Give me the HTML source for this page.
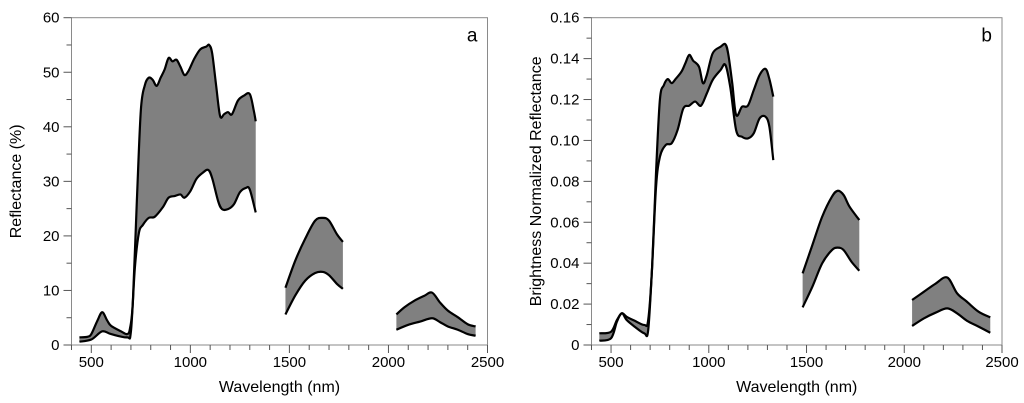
<!DOCTYPE html>
<html><head><meta charset="utf-8"><style>
body{margin:0;background:#fff;}
svg{display:block;font-family:"Liberation Sans",sans-serif;}
</style></head><body>
<svg id="chart" width="1024" height="403"></svg>
<script>
// ---- Panel a data ----
const aSeg1X=[440,480,500,530,555,580,600,650,680,695,710,730,750,770,790,810,830,850,870,890,910,930,950,970,990,1020,1050,1080,1095,1110,1130,1150,1170,1190,1210,1240,1270,1300,1320,1330];
const aSeg1Upper=[1.4,1.5,2.0,4.4,6.0,4.5,3.5,2.5,2.0,3.0,8.1,26.5,43,47.6,49,48.6,47.5,49,50.5,52.6,52.0,52.3,51,49.5,50.2,52.5,54.2,54.7,55,53.5,47.6,42,42.3,42.7,42.3,44.8,45.7,46,43,41];
const aSeg1LX=[440,500,555,600,680,700,720,740,760,790,820,860,890,920,950,970,1000,1030,1060,1090,1110,1140,1160,1190,1220,1250,1280,1300,1330];
const aSeg1Lower=[0.6,1.0,2.5,2.0,1.4,2.5,14.2,20.5,22,23.3,23.5,25.2,27,27.3,27.6,27,28.2,30.4,31.5,32.1,30.6,26.4,24.9,24.9,25.8,28,28.8,28.5,24.3];
const aSeg2X=[1480,1530,1580,1630,1670,1700,1740,1770];
const aSeg2Upper=[10.5,15.5,19.5,22.8,23.3,22.8,20.3,18.9];
const aSeg2Lower=[5.6,9.1,11.8,13.2,13.4,12.8,11.2,10.3];
const aSeg3UX=[2040,2080,2130,2180,2220,2260,2300,2350,2400,2440];
const aSeg3Upper=[5.6,6.9,8.1,9.0,9.6,7.8,6.3,5.1,3.8,3.4];
const aSeg3LX=[2040,2100,2160,2220,2260,2300,2350,2400,2440];
const aSeg3Lower=[2.8,3.7,4.3,4.9,4.2,3.4,2.8,2.0,1.7];
const aYTicks=[0,10,20,30,40,50,60];
// ---- Panel b data ----
const bSeg1X=[440,500,530,555,580,620,670,690,710,730,750,770,790,810,830,860,880,900,920,950,970,990,1020,1060,1085,1100,1120,1140,1170,1200,1230,1260,1290,1310,1330];
const bSeg1Upper=[0.0057,0.0065,0.0122,0.0155,0.0138,0.0119,0.0098,0.0122,0.038,0.084,0.120,0.127,0.130,0.128,0.130,0.1336,0.1377,0.1418,0.139,0.136,0.128,0.132,0.1426,0.1458,0.147,0.142,0.128,0.1124,0.1165,0.117,0.1246,0.132,0.135,0.130,0.1214];
const bSeg1LX=[440,500,530,555,580,620,670,690,710,730,750,780,810,840,870,900,930,960,990,1020,1060,1085,1110,1140,1170,1200,1230,1260,1290,1310,1330];
const bSeg1Lower=[0.0021,0.0033,0.0114,0.0155,0.0122,0.009,0.0057,0.0073,0.038,0.077,0.092,0.0978,0.0986,0.105,0.1157,0.117,0.119,0.117,0.123,0.1296,0.1344,0.1369,0.126,0.105,0.1018,0.101,0.1035,0.1108,0.1116,0.1067,0.0904];
const bSeg2UX=[1480,1530,1580,1630,1660,1690,1720,1770];
const bSeg2Upper=[0.035,0.0489,0.0627,0.0725,0.0754,0.0733,0.0676,0.0611];
const bSeg2LX=[1480,1530,1580,1630,1660,1690,1730,1770];
const bSeg2Lower=[0.0184,0.0285,0.0399,0.0464,0.0476,0.0464,0.0407,0.0363];
const bSeg3X=[2040,2100,2160,2220,2270,2320,2380,2440];
const bSeg3Upper=[0.022,0.026,0.030,0.033,0.0253,0.0212,0.0163,0.0135];
const bSeg3Lower=[0.0093,0.013,0.0158,0.0179,0.0155,0.0119,0.009,0.006];
const bYTicks=[0,0.02,0.04,0.06,0.08,0.10,0.12,0.14,0.16];
const xTicks=[500,1000,1500,2000,2500];

const NS="http://www.w3.org/2000/svg";
const svg=document.getElementById('chart');
function mk(tag,attrs,parent){const e=document.createElementNS(NS,tag);for(const k in attrs)e.setAttribute(k,attrs[k]);(parent||svg).appendChild(e);return e;}
function smooth(pts,start){
  let d=start?('M'+pts[0][0]+','+pts[0][1]):('L'+pts[0][0]+','+pts[0][1]);
  for(let i=0;i<pts.length-1;i++){
    const p0=pts[Math.max(0,i-1)],p1=pts[i],p2=pts[i+1],p3=pts[Math.min(pts.length-1,i+2)];
    const t=0.5/3;
    const c1=[p1[0]+(p2[0]-p0[0])*t,p1[1]+(p2[1]-p0[1])*t];
    const c2=[p2[0]-(p3[0]-p1[0])*t,p2[1]-(p3[1]-p1[1])*t];
    d+=` C${c1[0]},${c1[1]} ${c2[0]},${c2[1]} ${p2[0]},${p2[1]}`;
  }
  return d;
}

function panel(p){
  const g=mk('g',{});
  
  
  const xs=v=>p.L+(v-400)/(2100)*(p.R-p.L);
  const ys=v=>p.B-(v-p.ymin)/(p.ymax-p.ymin)*(p.B-p.T);
  p.segs.forEach((s,i)=>{
    const up=s.ux.map((x,j)=>[xs(x),ys(s.u[j])]);
    const lo=s.lx.map((x,j)=>[xs(x),ys(s.l[j])]);
    const bd=smooth(up,true)+' '+smooth(lo.slice().reverse(),false)+' Z';
    const band=mk('path',{d:bd,fill:'#808080',stroke:'none'},g);
    
    
    const l1=mk('path',{d:smooth(up,true),fill:'none',stroke:'#000','stroke-width':2.2,'stroke-linejoin':'round'},g);
    
    
    const l2=mk('path',{d:smooth(lo,true),fill:'none',stroke:'#000','stroke-width':2.2,'stroke-linejoin':'round'},g);
    
    
  });
  const fr=mk('rect',{x:p.L,y:p.T,width:p.R-p.L,height:p.B-p.T,fill:'none',stroke:'#8a8a8a','stroke-width':1},g);
  
  
  for(let v=400;v<=2500;v+=100){
    const x=xs(v);const major=v%500===0;
    mk('line',{x1:x,x2:x,y1:p.B,y2:p.B+(major?8:5),stroke:'#555','stroke-width':1},g);
  }
  xTicks.forEach(v=>{
    const t=mk('text',{x:xs(v),y:p.B+22,'text-anchor':'middle','font-size':15,fill:'#000'},g);
    t.textContent=v;
    
    
  });
  const step=(p.yTicks[1]-p.yTicks[0])/2;
  for(let k=0;k<=Math.round((p.ymax-p.ymin)/step);k++){
    const y=ys(p.ymin+k*step);
    mk('line',{x1:p.L-(k%2===0?8:5),x2:p.L,y1:y,y2:y,stroke:'#555','stroke-width':1},g);
  }
  p.yTicks.forEach(v=>{
    const t=mk('text',{x:p.L-12,y:ys(v)+5,'text-anchor':'end','font-size':15,fill:'#000'},g);
    t.textContent=p.fmt(v);
    
    
  });
  const xt=mk('text',{x:(p.L+p.R)/2,y:392,'text-anchor':'middle','font-size':16,fill:'#000'},g);
  xt.textContent='Wavelength (nm)';
  
  
  const yt=mk('text',{x:0,y:0,'text-anchor':'middle','font-size':16,fill:'#000',transform:`translate(${p.ytx},${(p.T+p.B)/2}) rotate(-90)`},g);
  yt.textContent=p.ytitle;
  
  
  const lb=mk('text',{x:p.R-10,y:p.T+24,'text-anchor':'end','font-size':19,fill:'#000'},g);
  lb.textContent=p.letter;
  
  
}

panel({name:'panel-a',L:71.5,R:487.5,T:17.7,B:345,ymin:0,ymax:60,yTicks:aYTicks,fmt:v=>String(v),ytitle:'Reflectance (%)',ytx:21,letter:'a',
  segs:[{ux:aSeg1X,u:aSeg1Upper,lx:aSeg1LX,l:aSeg1Lower},{ux:aSeg2X,u:aSeg2Upper,lx:aSeg2X,l:aSeg2Lower},{ux:aSeg3UX,u:aSeg3Upper,lx:aSeg3LX,l:aSeg3Lower}]});
panel({name:'panel-b',L:591.5,R:1002,T:17.7,B:345,ymin:0,ymax:0.16,yTicks:bYTicks,fmt:v=>v===0?'0':v.toFixed(2),ytitle:'Brightness Normalized Reflectance',ytx:541,letter:'b',
  segs:[{ux:bSeg1X,u:bSeg1Upper,lx:bSeg1LX,l:bSeg1Lower},{ux:bSeg2UX,u:bSeg2Upper,lx:bSeg2LX,l:bSeg2Lower},{ux:bSeg3X,u:bSeg3Upper,lx:bSeg3X,l:bSeg3Lower}]});
</script>
</body></html>
